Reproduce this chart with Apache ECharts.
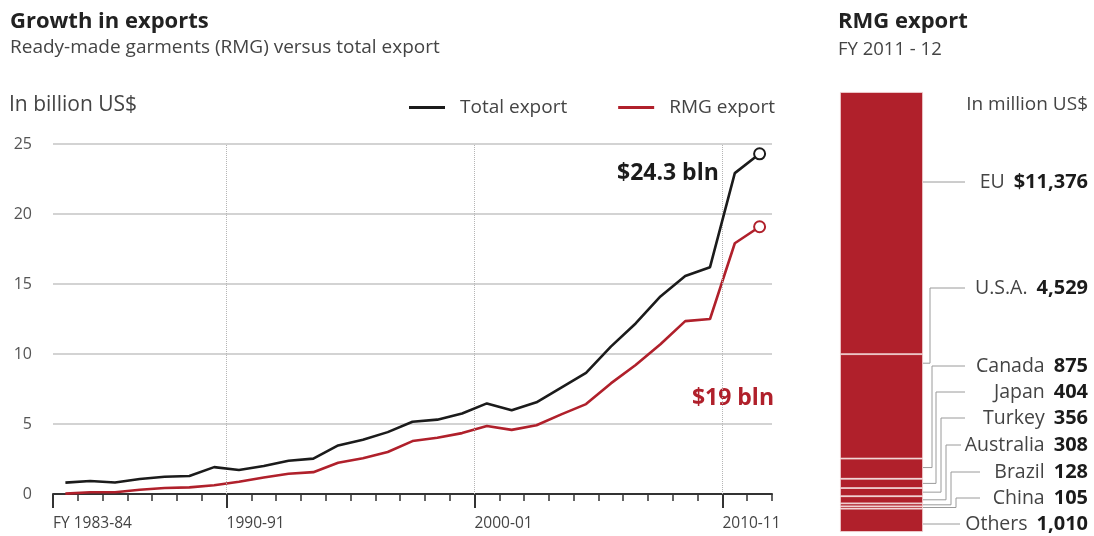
<!DOCTYPE html>
<html><head><meta charset="utf-8">
<script src="https://cdn.jsdelivr.net/npm/echarts@6/dist/echarts.min.js"></script>
<style>html,body{margin:0;padding:0;background:#fff}#c{width:1094px;height:536px}</style>
</head><body><div id="c"></div>
<script>
// ---------- data ----------
const fiscalYears = ['1983-84','1984-85','1985-86','1986-87','1987-88','1988-89','1989-90','1990-91','1991-92','1992-93','1993-94','1994-95','1995-96','1996-97','1997-98','1998-99','1999-00','2000-01','2001-02','2002-03','2003-04','2004-05','2005-06','2006-07','2007-08','2008-09','2009-10','2010-11','2011-12'];
const totalExport = [0.81,0.93,0.82,1.07,1.23,1.29,1.92,1.72,2.0,2.38,2.53,3.47,3.88,4.42,5.16,5.31,5.75,6.47,5.99,6.55,7.60,8.65,10.53,12.18,14.11,15.57,16.20,22.92,24.30];
const rmgExport = [0.03,0.12,0.13,0.30,0.43,0.47,0.62,0.87,1.18,1.45,1.56,2.23,2.55,3.00,3.78,4.02,4.35,4.86,4.58,4.91,5.69,6.42,7.90,9.21,10.70,12.35,12.50,17.91,19.09];
const xTickLabels = ['1983-84','1990-91','2000-01','2010-11'];
const xGridYears = ['1990-91','2000-01','2010-11'];
const yTicks = [0,5,10,15,20,25];
const markets = ['EU','U.S.A.','Canada','Japan','Turkey','Australia','Brazil','China','Others'];
const marketValues = [11376,4529,875,404,356,308,128,105,1010];

// ---------- layout (not data) ----------
const labelY = [182,288,366,392,418,445,472,498,524];
const elbowOffset = [0,7,9,13,18,23,28,33,0];
const leaderEnd = [965,965,965,965,965,961,980,980,960];
const FONT = '"Open Sans", "Noto Sans", sans-serif';
const BLACK = '#1b1b1b', RED = '#b0202b', TXT = '#444';

const yearStart = f => parseInt(f, 10);
const mid = f => parseInt(f, 10) + 0.5;
const fmt = v => v.toLocaleString('en-US');
const marketTotal = marketValues.reduce((a, b) => a + b, 0);
const cum = []; { let s = 0; marketValues.forEach(v => { cum.push([s, s + v]); s += v; }); }
const firstYear = yearStart(fiscalYears[0]);
const lastYearEnd = yearStart(fiscalYears[fiscalYears.length - 1]) + 1;

const chart = echarts.init(document.getElementById('c'), null, { renderer: 'canvas' });

const option = {
  animation: false,
  backgroundColor: '#fff',
  textStyle: { fontFamily: FONT },
  title: [
    { text: 'Growth in exports', subtext: 'Ready-made garments (RMG) versus total export', left: 5, top: 6, itemGap: 5,
      textStyle: { fontFamily: FONT, fontSize: 22, fontWeight: 'bold', color: '#222' },
      subtextStyle: { fontFamily: FONT, fontSize: 19, color: TXT } },
    { text: 'RMG export', subtext: 'FY 2011 - 12', left: 833, top: 6, itemGap: 7,
      textStyle: { fontFamily: FONT, fontSize: 22, fontWeight: 'bold', color: '#222' },
      subtextStyle: { fontFamily: FONT, fontSize: 18.5, color: TXT } }
  ],
  legend: {
    left: 404, top: 93, itemWidth: 36, itemHeight: 3, itemGap: 51, icon: 'rect',
    textStyle: { fontFamily: FONT, fontSize: 19, color: TXT, padding: [0, 0, 0, 10] },
    data: ['Total export', 'RMG export']
  },
  graphic: [
    { type: 'text', x: 9, y: 105, style: { text: 'In billion US$', font: '21px ' + FONT, fill: TXT, textVerticalAlign: 'middle' } },
    { type: 'text', x: 1088, y: 105, style: { text: 'In million US$', font: '19px ' + FONT, fill: TXT, textAlign: 'right', textVerticalAlign: 'middle' } },
    { type: 'text', x: 774, y: 398, style: { text: '$' + Math.round(rmgExport[rmgExport.length - 1]) + ' bln',
        textAlign: 'right', textVerticalAlign: 'middle', font: 'bold 23px ' + FONT, fill: RED } }
  ],
  grid: [
    { left: 53, top: 144, width: 719, height: 350 },
    { left: 840, top: 92, width: 83, height: 440 }
  ],
  xAxis: [
    { gridIndex: 0, type: 'value', position: 'bottom', min: firstYear, max: lastYearEnd, interval: 1,
      axisLine: { show: true, lineStyle: { color: '#333', width: 2 } },
      axisTick: { show: true, length: 7, lineStyle: { color: '#333', width: 1.5 } },
      axisLabel: { show: false }, splitLine: { show: false } },
    { gridIndex: 0, type: 'value', position: 'bottom', min: firstYear, max: lastYearEnd,
      axisLine: { show: false },
      axisTick: { show: true, length: 14, customValues: xTickLabels.map(yearStart), lineStyle: { color: '#333', width: 2 } },
      axisLabel: { show: true, customValues: xTickLabels.map(yearStart), align: 'left', margin: 22,
        fontFamily: FONT, fontSize: 15.5, color: TXT,
        formatter: v => { const f = fiscalYears.find(s => yearStart(s) === v); return (v === firstYear ? 'FY ' : '') + f; } },
      splitLine: { show: false } },
    { gridIndex: 1, type: 'category', data: ['RMG'], show: false }
  ],
  yAxis: [
    { gridIndex: 0, type: 'value', min: yTicks[0], max: yTicks[yTicks.length - 1], interval: 5,
      axisLine: { show: false }, axisTick: { show: false },
      axisLabel: { margin: 21, fontFamily: FONT, fontSize: 16, color: '#555' },
      splitLine: { lineStyle: { color: '#c4c4c4', width: 1.5 } } },
    { gridIndex: 1, type: 'value', min: 0, max: marketTotal, inverse: true, show: false }
  ],
  series: [
    { name: 'Total export', type: 'line', xAxisIndex: 0, yAxisIndex: 0, color: BLACK,
      data: totalExport.map((v, i) => i === totalExport.length - 1
        ? { value: [mid(fiscalYears[i]), v], symbol: 'emptyCircle', symbolSize: 11 }
        : { value: [mid(fiscalYears[i]), v], symbol: 'none' }),
      lineStyle: { color: BLACK, width: 2.6 }, itemStyle: { color: BLACK, borderWidth: 2.2 }, z: 5,
      markLine: { silent: true, symbol: ['none', 'none'], label: { show: false },
        lineStyle: { type: 'dotted', color: '#b5b5b5', width: 1 },
        data: xGridYears.map(f => ({ xAxis: yearStart(f) })) },
      markPoint: { symbolSize: 0, silent: true,
        data: [{ coord: [mid(fiscalYears[fiscalYears.length - 2]), totalExport[totalExport.length - 2]],
          label: { show: true, position: 'left', distance: 16,
            formatter: '$' + totalExport[totalExport.length - 1] + ' bln',
            fontFamily: FONT, fontSize: 23, fontWeight: 'bold', color: BLACK } }] } },
    { name: 'RMG export', type: 'line', xAxisIndex: 0, yAxisIndex: 0, color: RED,
      data: rmgExport.map((v, i) => i === rmgExport.length - 1
        ? { value: [mid(fiscalYears[i]), v], symbol: 'emptyCircle', symbolSize: 11 }
        : { value: [mid(fiscalYears[i]), v], symbol: 'none' }),
      lineStyle: { color: RED, width: 2.6 }, itemStyle: { color: RED, borderWidth: 2.2 }, z: 4 },
    ...markets.map((m, i) => ({
      name: m, type: 'bar', stack: 'rmg', xAxisIndex: 2, yAxisIndex: 1, barWidth: '100%',
      data: [marketValues[i]], itemStyle: { color: RED, borderColor: '#f4dada', borderWidth: 0.8 }, silent: true
    })),
    { type: 'custom', xAxisIndex: 2, yAxisIndex: 1, silent: true, clip: false, z: 10,
      data: cum.map((c, i) => [0, c[0], c[1], i]),
      renderItem: (params, api) => {
        const i = params.dataIndex;
        const top = api.coord([0, api.value(1)]);
        const bot = api.coord([0, api.value(2)]);
        const xr = top[0] + api.size([1, 0])[0] / 2;
        const ly = labelY[i];
        const h = bot[1] - top[1];
        const inside = ly >= top[1] && ly <= bot[1];
        const ay = inside ? ly : top[1] + Math.min(h / 2, 9);
        const ex = xr + elbowOffset[i];
        const pts = inside ? [[xr, ay], [leaderEnd[i], ly]] : [[xr, ay], [ex, ay], [ex, ly], [leaderEnd[i], ly]];
        return { type: 'group', children: [
          { type: 'polyline', shape: { points: pts }, style: { stroke: '#9a9a9a', lineWidth: 1, fill: null } },
          { type: 'text', style: { x: 1088, y: ly, align: 'right', verticalAlign: 'middle',
              text: '{n|' + markets[i] + '}{v|' + (i === 0 ? '$' : '') + fmt(marketValues[i]) + '}',
              rich: { n: { fontFamily: FONT, fontSize: 19.5, fill: TXT, color: TXT, padding: [0, 9, 0, 0] },
                      v: { fontFamily: FONT, fontSize: 20, fontWeight: 'bold', fill: '#1b1b1b', color: '#1b1b1b' } } } }
        ] };
      } }
  ]
};
chart.setOption(option);
</script></body></html>
